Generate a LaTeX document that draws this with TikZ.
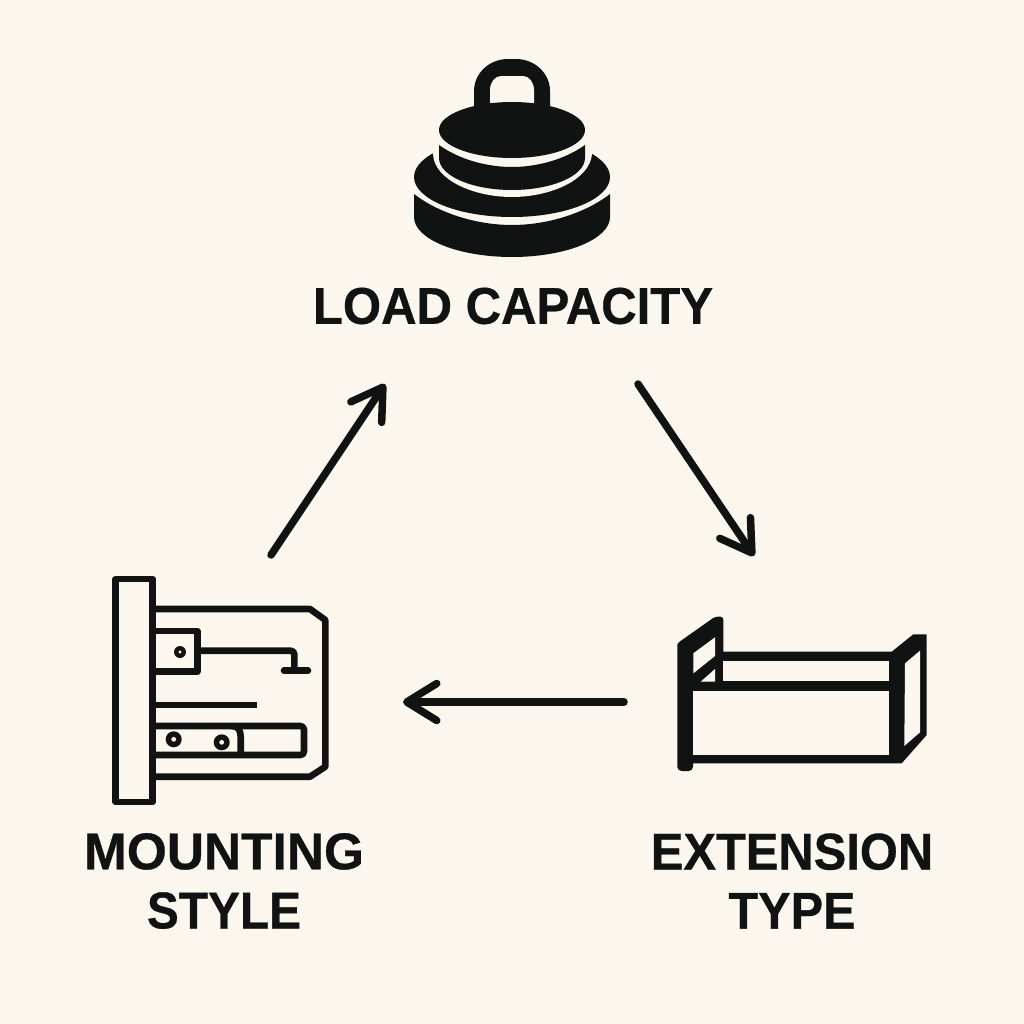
\documentclass[tikz,border=0pt]{standalone}
\usepackage{fontspec}
\usepackage{graphicx}
\setmainfont[BoldFeatures={FakeBold=0.6}]{Liberation Sans}
\usetikzlibrary{arrows.meta}
\definecolor{paper}{HTML}{FBF7EF}
\definecolor{ink}{HTML}{111313}
\newcommand{\squeezed}[2]{\scalebox{#1}[1]{#2}}
\tikzset{
  lbl/.style={text=ink,font=\bfseries\fontsize{14.7}{16.8}\selectfont,align=center,inner sep=0pt},
  flow/.style={draw=ink,line width=0.075cm,line cap=round,-{Straight Barb[length=0.3cm,width=0.37cm,line width=0.075cm,round]}},
  solid ink/.style={fill=ink,draw=none},
  hole/.style={fill=paper,draw=none},
  outline/.style={draw=ink,line width=0.066cm,line join=round},
}
\begin{document}
\begin{tikzpicture}[x=0.01cm,y=-0.01cm]
\useasboundingbox (0,0) rectangle (1024,1024);
\fill[paper] (0,0) rectangle (1024,1024);

% weight icon
\path[solid ink] (474,108) -- (474,91) arc[start angle=180,end angle=270,x radius=34,y radius=32]
  -- (516,59) arc[start angle=270,end angle=360,x radius=34,y radius=32] -- (550,108) -- cycle;
\path[hole] (490,103) -- (490,90) arc[start angle=180,end angle=270,x radius=11,y radius=14]
  -- (523,76) arc[start angle=270,end angle=360,x radius=11,y radius=14] -- (534,103) -- cycle;
% lower disc with the gap cut out of it
\path[solid ink] (512,177) ellipse[x radius=98,y radius=40];
\path[hole] (433,125) -- (433,154) .. controls (434,180) and (474,197) .. (512,197)
  .. controls (550,197) and (590,180) .. (592,154) -- (592,125) -- cycle;
\path[solid ink] (512,130) ellipse[x radius=73,y radius=28];
% middle band
\path[solid ink] (439,145) -- (439,158) arc[start angle=180,end angle=0,x radius=73,y radius=32]
  -- (585,145) .. controls (564,160) and (536,167) .. (512,167) .. controls (488,167) and (460,160) .. (439,145) -- cycle;
% base band
\path[solid ink] (414,194) -- (414,217) arc[start angle=180,end angle=0,x radius=98,y radius=40]
  -- (610,194) .. controls (584,214) and (546,225) .. (512,225) .. controls (478,225) and (440,214) .. (414,194) -- cycle;

% mounting icon
\draw[outline] (115.7,579) rectangle (152.7,802);
\draw[outline] (152.7,609) -- (310,609) -- (325.3,620) -- (325.3,766.7) -- (310,776.7) -- (152.7,776.7);
\draw[outline] (152.7,631) -- (197.3,631) -- (197.3,671.7) -- (152.7,671.7);
\draw[outline,rounded corners=1pt] (197.3,650.7) -- (294.3,650.7) -- (294.3,670.7);
\draw[ink,line width=0.066cm,line cap=round] (284,670.7) -- (308,670.7);
\draw[ink,line width=0.066cm] (152.7,705) -- (257.3,705);
\draw[outline,rounded corners=1pt] (152.7,726) -- (304,726) -- (304,755) -- (152.7,755);
\draw[outline] (232,726) .. controls (238,726) and (240.7,730) .. (240.7,737) -- (240.7,755);
\path[solid ink] (180,652) circle[radius=6];
\path[hole] (180,652) circle[radius=1.6];
\path[solid ink] (173.7,739.3) circle[radius=8];
\path[hole] (173.7,739.3) circle[radius=2.4];
\path[solid ink] (221.7,742.3) circle[radius=8];
\path[hole] (221.7,742.3) circle[radius=2.4];

% extension icon
\path[solid ink] (677.3,647) [rounded corners=0.8pt] -- (677.3,643.3) -- (715,616.7) -- (723.3,616.7) [sharp corners] -- (723.3,651.7) -- (891.7,651.7)
  -- (913.3,634.3) -- (926.7,634.3) -- (926.7,735) -- (901.7,763.3) -- (693,763.3) [rounded corners=1.2pt] -- (693,771) -- (677.3,771) -- cycle;
\path[hole] (693.3,653.3) -- (715,637.3) -- (715,656) -- (693.3,673.3) -- cycle;
\path[hole] (700.7,681.7) -- (715,669) -- (715,681.7) -- cycle;
\path[hole] (723.3,660.7) rectangle (889.3,681);
\path[hole] (693.3,691) rectangle (889.3,755);
\path[hole] (905,663.3) -- (920,650.7) -- (920,732.3) -- (904.3,746) -- cycle;

% labels
\node[lbl] (load) at (513,306) {\squeezed{0.95}{LOAD CAPACITY}};
\node[lbl] (mount) at (224,881) {\squeezed{0.995}{MOUNTING}\\\squeezed{0.925}{STYLE}};
\node[lbl] (ext) at (792,881) {\squeezed{0.945}{EXTENSION}\\\squeezed{0.94}{TYPE}};

% arrows
\coordinate (a1) at (271,555);
\coordinate (a2) at (385,384);
\coordinate (b1) at (638,384);
\coordinate (b2) at (754,556);
\coordinate (c1) at (624,702);
\coordinate (c2) at (403,702);
\draw[flow] (a1) -- (a2);
\draw[flow] (b1) -- (b2);
\draw[flow] (c1) -- (c2);
\end{tikzpicture}
\end{document}
